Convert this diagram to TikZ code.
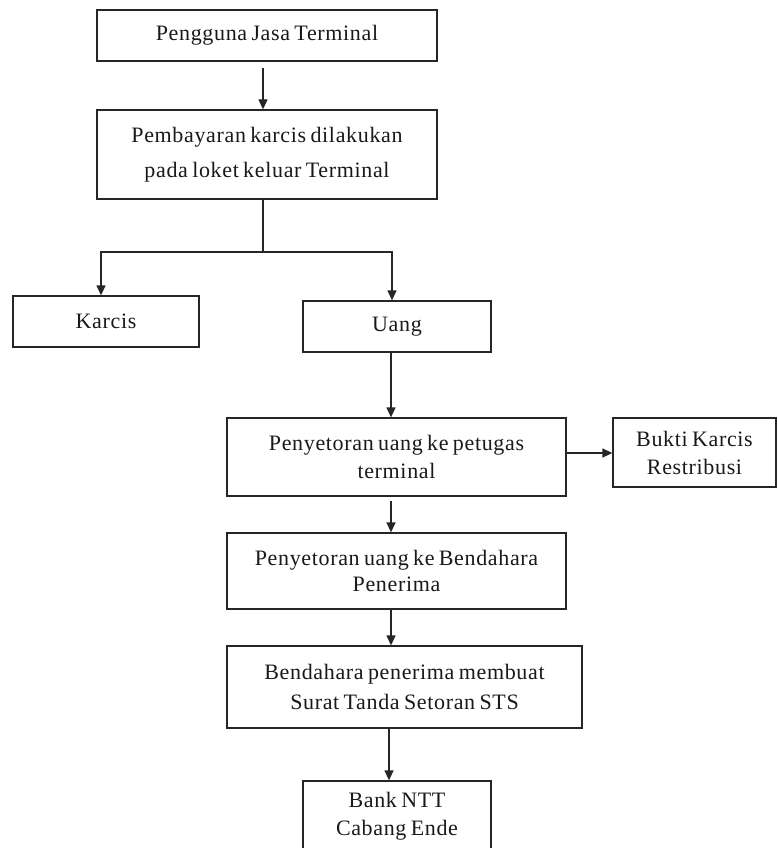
\documentclass[tikz,border=0pt]{standalone}
\usepackage{fontspec}
\setmainfont[LetterSpace=3,WordSpace=0.7]{Liberation Serif}
\usetikzlibrary{arrows.meta}
\begin{document}
\begin{tikzpicture}[x=1pt,y=-1pt,
  box/.style={draw=black!85,line width=1.3pt,rectangle,align=center,inner sep=0pt,
    font=\fontsize{22}{28}\selectfont,text=black!90},
  conn/.style={draw=black!85,line width=1.3pt},
  arr/.style={conn,-{Triangle[length=10pt,width=9pt]}}]
\useasboundingbox (0,0) rectangle (777,848);
\begin{scope}
\clip (0,0) rectangle (777,848);
\node[box,minimum width=340pt,minimum height=51pt] (b1) at (267,35.5) {Pengguna Jasa Terminal};
\node[box,minimum width=340pt,minimum height=89pt,font=\fontsize{22}{35}\selectfont] (b2) at (267,154.5) {Pembayaran karcis dilakukan\\pada loket keluar Terminal};
\node[box,minimum width=186pt,minimum height=51pt] (karcis) at (106,321.5) {Karcis};
\node[box,minimum width=188pt,minimum height=51pt] (uang) at (397,326.5) {Uang};
\node[box,minimum width=339pt,minimum height=78pt] (p1) at (396.5,457) {Penyetoran uang ke petugas\\terminal};
\node[box,minimum width=163pt,minimum height=69pt] (bukti) at (694.5,452.5) {Bukti Karcis\\Restribusi};
\node[box,minimum width=339pt,minimum height=76pt,font=\fontsize{22}{26}\selectfont] (p2) at (396.5,571) {Penyetoran uang ke Bendahara\\Penerima};
\node[box,minimum width=355pt,minimum height=82pt,font=\fontsize{22}{30}\selectfont] (bs) at (404.5,687) {Bendahara penerima membuat\\Surat Tanda Setoran STS};
\node[box,minimum width=188pt,minimum height=70pt] (bank) at (397,816) {Bank NTT\\Cabang Ende};
\coordinate (xa) at (263,0);
\coordinate (xk) at (101,0);
\coordinate (xu) at (392,0);
\coordinate (xp) at (391,0);
\coordinate (xb) at (389,0);
\coordinate (jy) at (0,252);
\coordinate (ay) at (0,453);
\draw[arr,shorten <=6pt] (b1.south -| xa) -- (b2.north -| xa);
\draw[conn] (b2.south -| xa) -- (xa |- jy);
\draw[arr] (xa |- jy) -| (karcis.north -| xk);
\draw[arr] (xa |- jy) -| (uang.north -| xu);
\draw[arr] (uang.south -| xp) -- (p1.north -| xp);
\draw[arr] (p1.east |- ay) -- (bukti.west |- ay);
\draw[arr,shorten <=4pt] (p1.south -| xp) -- (p2.north -| xp);
\draw[arr] (p2.south -| xp) -- (bs.north -| xp);
\draw[arr] (bs.south -| xb) -- (bank.north -| xb);
\end{scope}
\end{tikzpicture}
\end{document}
